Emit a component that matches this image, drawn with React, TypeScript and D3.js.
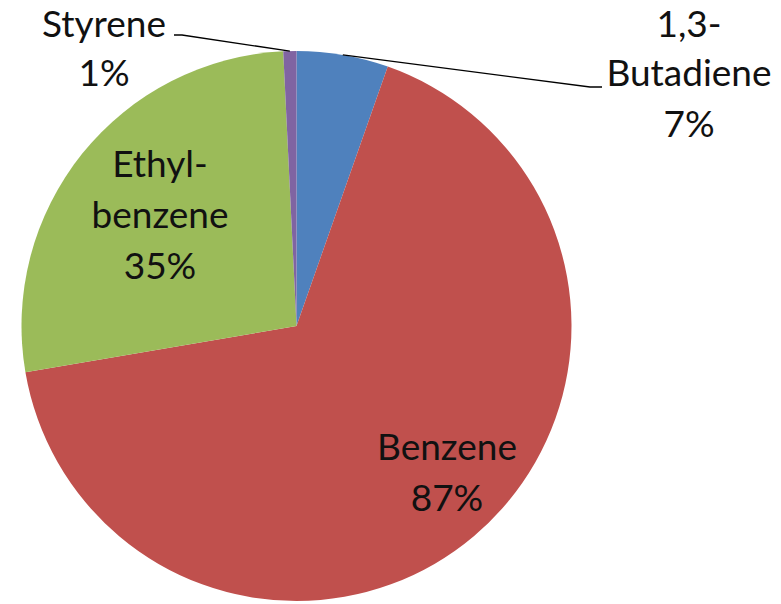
import React from "react";
import * as d3 from "d3";

const categories = ["1,3-Butadiene", "Benzene", "Ethylbenzene", "Styrene"];
const values = [7, 87, 35, 1];
const colors = ["#4F81BD", "#C0504D", "#9BBB59", "#8064A2"];
const labelLines = [["1,3-", "Butadiene", "7%"], ["Benzene", "87%"], ["Ethyl-", "benzene", "35%"], ["Styrene", "1%"]];

const W = 781;
const H = 604;
const cx = 296.5;
const cy = 326;
const R = 275;
const fontSize = 37;
const lineH = 51;

// label anchors: center x, first-line baseline y, and baseline of the second line
const labelPos = [
  { x: 689, y: 37, y2: 86 },
  { x: 447, y: 460, y2: 511 },
  { x: 160, y: 177, y2: 228 },
  { x: 104, y: 37, y2: 86 },
];
// leader line start points (near label) and elbows
const leaders: Record<number, { start: [number, number]; elbow: [number, number] }> = {
  0: { start: [602, 87], elbow: [590, 87] },
  3: { start: [174, 35], elbow: [182, 35] },
};

export default function App() {
  const pie = d3.pie<number>().sort(null).value((d) => d).startAngle(0).endAngle(2 * Math.PI);
  const arcs = pie(values);
  const arc = d3.arc<d3.PieArcDatum<number>>().innerRadius(0).outerRadius(R);

  return (
    <svg width={W} height={H} style={{ position: "absolute", left: 0, top: 0, background: "#fff" }}>
      <g transform={`translate(${cx},${cy})`}>
        {arcs.map((a, i) => (
          <path key={categories[i]} d={arc(a) || ""} fill={colors[i]} />
        ))}
      </g>
      {arcs.map((a, i) => {
        const ld = leaders[i];
        if (!ld) return null;
        const mid = (a.startAngle + a.endAngle) / 2;
        const ex = cx + R * Math.sin(mid);
        const ey = cy - R * Math.cos(mid);
        return (
          <polyline
            key={"l" + i}
            points={`${ld.start[0]},${ld.start[1]} ${ld.elbow[0]},${ld.elbow[1]} ${ex},${ey}`}
            fill="none"
            stroke="#000"
            strokeWidth={1.3}
          />
        );
      })}
      {labelLines.map((lines, i) => (
        <text
          key={"t" + i}
          textAnchor="middle"
          fontFamily="Lato, 'Open Sans', sans-serif"
          fontSize={fontSize}
          fill="#111"
        >
          {lines.map((s, j) => (
            <tspan
              key={j}
              x={labelPos[i].x}
              y={j === 0 ? labelPos[i].y : labelPos[i].y2 + (j - 1) * lineH}
            >
              {s}
            </tspan>
          ))}
        </text>
      ))}
    </svg>
  );
}
